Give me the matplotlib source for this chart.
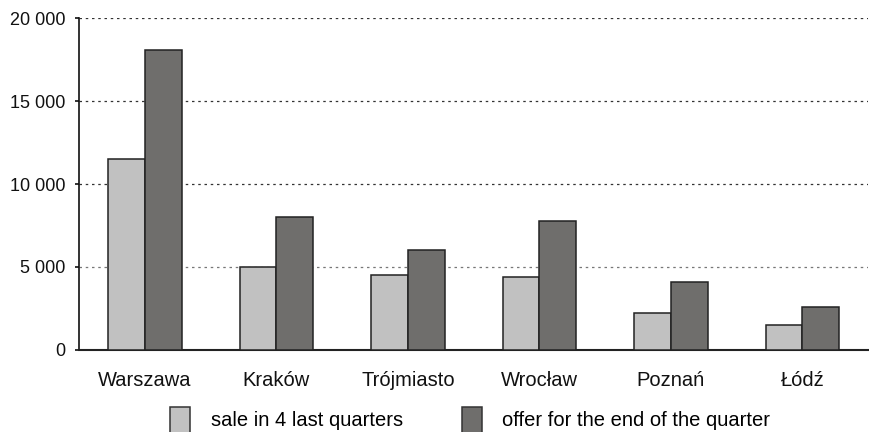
import matplotlib.pyplot as plt
from matplotlib.patches import Patch
from matplotlib.ticker import FuncFormatter
import numpy as np

plt.rcParams['font.family'] = ['Liberation Sans', 'DejaVu Sans']

cities = ["Warszawa", "Kraków", "Trójmiasto", "Wrocław", "Poznań", "Łódź"]
sale = [11500, 5000, 4500, 4400, 2200, 1500]
offer = [18100, 8000, 6000, 7750, 4100, 2600]
labels = ["sale in 4 last quarters", "offer for the end of the quarter"]

light = "#c1c1c1"
dark = "#6f6e6c"

fig = plt.figure(figsize=(8.69, 4.32), dpi=100)
ax = fig.add_axes([0.091, 0.19, 0.908, 0.768])

x = np.arange(len(cities))
w = 0.28
ax.bar(x - w / 2, sale, w, color=light, edgecolor="#222222", linewidth=1.1, zorder=3)
ax.bar(x + w / 2, offer, w, color=dark, edgecolor="#222222", linewidth=1.1, zorder=3)

ax.set_xlim(-0.5, len(cities) - 0.5)
ax.set_ylim(0, 20000)
ax.set_yticks([0, 5000, 10000, 15000, 20000])
ax.yaxis.set_major_formatter(FuncFormatter(lambda v, p: f"{int(v):,}".replace(",", " ")))
ax.set_xticks(x)
ax.set_xticklabels(cities)

# dotted horizontal guides
for v in [5000, 10000, 15000, 20000]:
    ax.axhline(v, color="#333333" if v > 5000 else "#777777",
               linestyle=(0, (2, 3)), linewidth=0.9, zorder=1)

for s in ["top", "right"]:
    ax.spines[s].set_visible(False)
ax.spines["left"].set_color("#111111")
ax.spines["bottom"].set_color("#222222")
ax.spines["left"].set_linewidth(1.2)
ax.spines["bottom"].set_linewidth(1.5)
ax.tick_params(axis="y", length=3, width=1.2, labelsize=13, pad=7, colors="#111111")
ax.tick_params(axis="x", length=0, labelsize=14.5, pad=15, colors="#111111")

handles = [Patch(facecolor=light, edgecolor="#333333", linewidth=1.1),
           Patch(facecolor=dark, edgecolor="#333333", linewidth=1.1)]
fig.legend(handles, labels, ncol=2, loc="upper left", bbox_to_anchor=(0.196, 0.058),
           frameon=False, fontsize=14.5, handlelength=1.0, handleheight=1.6,
           handletextpad=1.0, columnspacing=2.95, borderaxespad=0, borderpad=0)

fig.savefig("out.png", dpi=100)
